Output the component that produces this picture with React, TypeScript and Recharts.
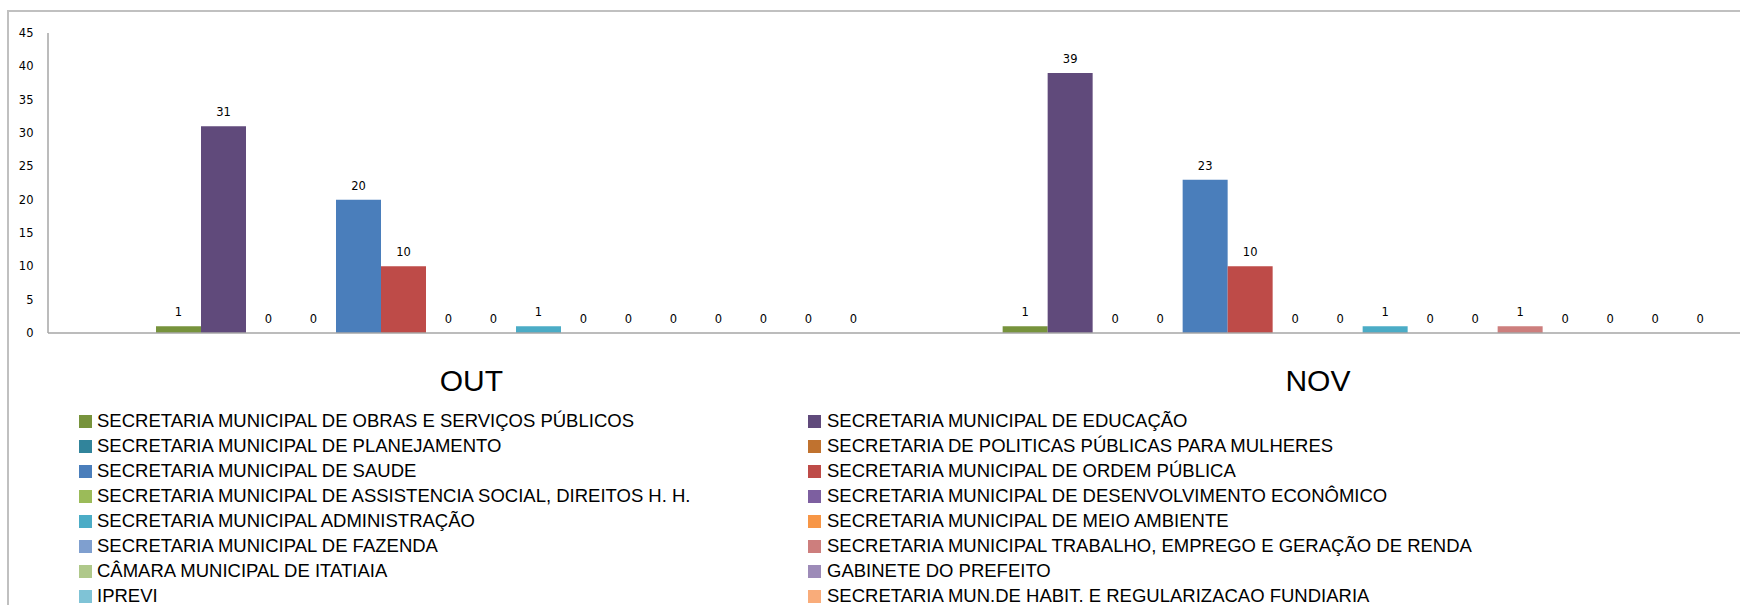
import React from 'react';
import { BarChart, Bar, XAxis, YAxis, LabelList } from 'recharts';

const categories = ['OUT', 'NOV'];

// Two empty leading series exist in the source chart (they take a slot but have no data / legend entry)
const blankSeries = ['_blank1', '_blank2'];

const seriesNames = [
  'SECRETARIA MUNICIPAL DE OBRAS E SERVIÇOS PÚBLICOS',
  'SECRETARIA MUNICIPAL DE EDUCAÇÃO',
  'SECRETARIA MUNICIPAL DE PLANEJAMENTO',
  'SECRETARIA DE POLITICAS PÚBLICAS PARA MULHERES',
  'SECRETARIA MUNICIPAL DE SAUDE',
  'SECRETARIA MUNICIPAL DE ORDEM PÚBLICA',
  'SECRETARIA MUNICIPAL DE ASSISTENCIA SOCIAL, DIREITOS H. H.',
  'SECRETARIA MUNICIPAL DE DESENVOLVIMENTO ECONÔMICO',
  'SECRETARIA MUNICIPAL ADMINISTRAÇÃO',
  'SECRETARIA MUNICIPAL DE MEIO AMBIENTE',
  'SECRETARIA MUNICIPAL DE FAZENDA',
  'SECRETARIA MUNICIPAL TRABALHO, EMPREGO E GERAÇÃO DE RENDA',
  'CÂMARA MUNICIPAL DE ITATIAIA',
  'GABINETE DO PREFEITO',
  'IPREVI',
  'SECRETARIA MUN.DE HABIT. E REGULARIZACAO FUNDIARIA',
];

const seriesColors = [
  '#77933c', '#604a7b', '#31849b', '#c0722f',
  '#4a7ebb', '#be4b48', '#9bbb59', '#7d5fa0',
  '#4bacc6', '#f79646', '#7f9fcf', '#cd7e7d',
  '#afc88a', '#9d8bb8', '#7fc3d6', '#f9ac7a',
];

const outValues = [1, 31, 0, 0, 20, 10, 0, 0, 1, 0, 0, 0, 0, 0, 0, 0];
const novValues = [1, 39, 0, 0, 23, 10, 0, 0, 1, 0, 0, 1, 0, 0, 0, 0];

const yTicks = [0, 5, 10, 15, 20, 25, 30, 35, 40, 45];

const valuesByCategory = [outValues, novValues];

const data = categories.map((cat, ci) => {
  const row: Record<string, any> = { name: cat };
  blankSeries.forEach((b) => (row[b] = null));
  seriesNames.forEach((s, si) => (row['s' + si] = valuesByCategory[ci][si]));
  return row;
});

const numFont = "'DejaVu Sans', Verdana, sans-serif";
const textFont = "'Liberation Sans', Arial, sans-serif";

const CategoryTick = (props: any) => {
  const { x, y, payload } = props;
  return (
    <text x={x} y={y + 58} textAnchor="middle" fontSize={30} fontFamily={textFont} fill="#000">
      {payload.value}
    </text>
  );
};

const ValueLabel = (props: any) => {
  const { x, y, width, height, value } = props;
  if (value === null || value === undefined) return null;
  const top = Math.min(Number(y), Number(y) + Number(height || 0));
  return (
    <text
      x={Number(x) + Number(width) / 2}
      y={top - 10}
      textAnchor="middle"
      fontSize={11.5}
      fontFamily={numFont}
      fill="#000"
    >
      {value}
    </text>
  );
};

export default function App() {
  const col1 = seriesNames.filter((_, i) => i % 2 === 0).map((n, k) => ({ n, c: seriesColors[k * 2] }));
  const col2 = seriesNames.filter((_, i) => i % 2 === 1).map((n, k) => ({ n, c: seriesColors[k * 2 + 1] }));
  const renderCol = (items: { n: string; c: string }[], sqLeft: number, txtLeft: number) =>
    items.map((it, r) => (
      <div key={it.n} style={{ position: 'absolute', left: 0, top: 413.3 + r * 25, height: 16, width: 900 }}>
        <div style={{ position: 'absolute', left: sqLeft, top: 1.7, width: 13, height: 13, background: it.c }} />
        <div
          style={{
            position: 'absolute',
            left: txtLeft,
            top: 0,
            lineHeight: '16px',
            fontSize: 18.5,
            fontFamily: textFont,
            color: '#000',
            whiteSpace: 'nowrap',
          }}
        >
          {it.n}
        </div>
      </div>
    ));

  return (
    <div style={{ position: 'fixed', left: 0, top: 0, width: 1740, height: 605, overflow: 'hidden', background: '#fff' }}>
      <div
        style={{
          position: 'absolute',
          left: 7,
          top: 10,
          width: 1800,
          height: 700,
          border: '2px solid #c0c0c0',
          boxSizing: 'border-box',
        }}
      />
      <div style={{ position: 'absolute', left: 0, top: 0 }}>
        <BarChart
          width={1742}
          height={605}
          data={data}
          margin={{ top: 33, right: 0.7, left: 8, bottom: 0 }}
          barSize={45}
          barGap={0}
        >
          <XAxis
            dataKey="name"
            height={272}
            tickLine={false}
            tickSize={0}
            tickMargin={0}
            axisLine={{ stroke: '#a6a6a6', strokeWidth: 1.5 }}
            tick={<CategoryTick />}
            interval={0}
          />
          <YAxis
            width={40}
            domain={[0, 45]}
            ticks={yTicks}
            interval={0}
            tickLine={false}
            tickSize={0}
            tickMargin={14.5}
            axisLine={{ stroke: '#a6a6a6', strokeWidth: 1.5 }}
            tick={{ fontSize: 11.5, fill: '#000', fontFamily: numFont }}
          />
          {blankSeries.map((b) => (
            <Bar key={b} dataKey={b} fill="transparent" isAnimationActive={false} />
          ))}
          {seriesNames.map((s, si) => (
            <Bar
              key={s}
              dataKey={'s' + si}
              name={s}
              fill={seriesColors[si]}
              isAnimationActive={false}
              minPointSize={0.01}
            >
              <LabelList dataKey={'s' + si} content={<ValueLabel />} />
            </Bar>
          ))}
        </BarChart>
      </div>
      {renderCol(col1, 79, 97)}
      {renderCol(col2, 808, 827)}
    </div>
  );
}
